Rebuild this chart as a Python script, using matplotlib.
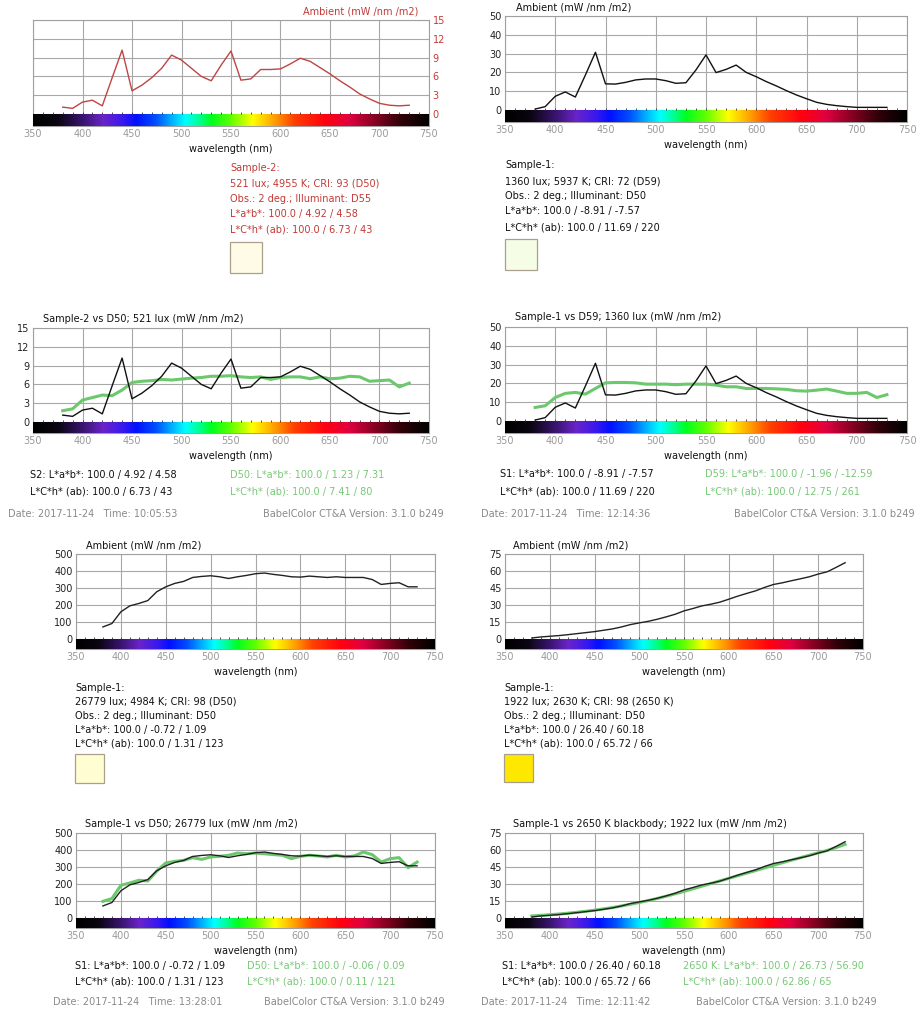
import numpy as np
import matplotlib
matplotlib.use('Agg')
import matplotlib.pyplot as plt
from matplotlib.colors import LinearSegmentedColormap
from matplotlib.patches import Rectangle

W, H = 924, 1009

# spectra, 380..730 nm every 10 nm
wavelength = list(range(380, 740, 10))

sample2_521 = [1.1, 0.9, 1.9, 2.2, 1.3, 5.8, 10.2, 3.7, 4.6, 5.8, 7.3, 9.4, 8.6, 7.3, 6.0, 5.3,
               7.8, 10.05, 5.4, 5.6, 7.1, 7.1, 7.2, 8.0, 8.9, 8.4, 7.4, 6.4, 5.3, 4.3, 3.2, 2.4,
               1.7, 1.4, 1.3, 1.4]
d50_521 = [1.8, 2.1, 3.5, 3.9, 4.3, 4.2, 5.1, 6.3, 6.5, 6.6, 6.8, 6.7, 6.85, 7.0, 7.1, 7.3,
           7.3, 7.4, 7.2, 7.1, 7.2, 6.8, 7.1, 7.2, 7.2, 6.9, 7.2, 6.9, 7.0, 7.3, 7.2, 6.5,
           6.6, 6.7, 5.6, 6.2]

sample1_1360 = [0.5, 1.8, 7.3, 9.6, 6.9, 18.6, 30.7, 13.9, 13.8, 14.7, 16.0, 16.5, 16.5, 15.6,
                14.2, 14.5, 21.3, 29.3, 19.9, 21.6, 23.9, 20.0, 17.7, 15.1, 12.8, 10.3, 8.0,
                6.0, 4.1, 3.0, 2.3, 1.8, 1.4, 1.4, 1.4, 1.4]
d59_1360 = [7.2, 8.1, 12.5, 14.7, 15.2, 14.3, 17.3, 20.3, 20.5, 20.5, 20.3, 19.6, 19.6, 19.6,
            19.3, 19.6, 19.6, 19.6, 19.1, 18.2, 18.2, 17.3, 17.3, 17.3, 17.1, 16.8, 16.1, 15.9,
            16.4, 17.0, 15.9, 14.7, 14.7, 15.2, 12.5, 14.0]

sample1_26779 = [71, 91, 160, 195, 209, 226, 278, 307, 327, 339, 362, 368, 372, 366, 356, 366,
                 374, 384, 388, 380, 374, 366, 364, 370, 366, 362, 366, 362, 362, 362, 350, 321,
                 327, 331, 307, 307]
d50_26779 = [98, 114, 192, 206, 222, 218, 276, 324, 333, 339, 355, 345, 359, 363, 369, 382,
             378, 382, 378, 373, 369, 349, 363, 369, 365, 359, 369, 359, 365, 388, 373, 329,
             349, 355, 296, 329]

sample1_1922 = [0.9, 1.8, 2.4, 3.0, 3.8, 4.7, 5.6, 6.5, 7.7, 8.9, 10.6, 12.7, 14.2, 15.6, 17.4,
                19.5, 21.8, 24.8, 26.9, 29.2, 30.7, 32.5, 35.1, 37.8, 40.2, 42.5, 45.5, 48.1,
                49.6, 51.4, 53.1, 54.9, 57.3, 59.3, 63.2, 67.3]
bb2650_1922 = [1.8, 2.3, 2.9, 3.5, 4.2, 5.0, 5.9, 6.9, 8.0, 9.2, 10.6, 12.1, 13.7, 15.4, 17.2,
               19.2, 21.3, 23.5, 25.8, 28.1, 30.4, 32.7, 35.0, 37.3, 39.6, 41.9, 44.2, 46.5,
               48.8, 51.0, 53.2, 55.4, 57.5, 59.6, 62.2, 65.0]

RED = '#c23a36'
GREEN_LINE = '#6cc86c'
GREEN_TXT = '#78c878'
GREY_TXT = '#8a8a8a'
FS = 7

spec_cmap = LinearSegmentedColormap.from_list('spectrum', [
    (0.000, '#000000'), (0.060, '#0a0510'), (0.125, '#3a1470'), (0.175, '#6a24c8'),
    (0.225, '#3a18f0'), (0.260, '#0010ff'), (0.310, '#0050ff'), (0.360, '#00c8ff'),
    (0.385, '#00ffff'), (0.420, '#00ff90'), (0.450, '#00ff20'), (0.500, '#60ff00'),
    (0.555, '#ffff00'), (0.610, '#ffa000'), (0.660, '#ff4000'), (0.740, '#ff0010'),
    (0.800, '#e00040'), (0.870, '#800020'), (0.930, '#300008'), (1.000, '#000000')])
grad = np.linspace(0, 1, 800).reshape(1, -1)

fig = plt.figure(figsize=(W / 100, H / 100), dpi=100)
plt.rcParams['font.family'] = 'DejaVu Sans'


def ftext(x, y, s, color='#111111', ha='left', size=FS):
    fig.text(x / W, 1 - y / H, s, ha=ha, va='center', color=color, fontsize=size)


def spec_axes(x0, top, x1, zero, bottom, ymax, step, right=False, ycolor='#222222'):
    ax = fig.add_axes([x0 / W, 1 - bottom / H, (x1 - x0) / W, (bottom - top) / H])
    ybot = -ymax * (bottom - zero) / (zero - top)
    ax.imshow(grad, extent=[350, 750, ybot, 0], aspect='auto', cmap=spec_cmap, zorder=3,
              interpolation='bilinear')
    ax.vlines(np.arange(360, 750, 10), 0, ymax * 0.022, colors='#333333', lw=0.6, zorder=4)
    ax.set_xlim(350, 750)
    ax.set_ylim(ybot, ymax)
    ax.set_xticks(range(350, 751, 50))
    ax.set_yticks(np.arange(0, ymax + step / 2, step))
    ax.set_yticklabels([f'{v:g}' for v in np.arange(0, ymax + step / 2, step)])
    ax.grid(color='#a8a8a8', lw=0.8)
    for s in ax.spines.values():
        s.set_color('#a0a0a0')
        s.set_linewidth(0.8)
    ax.tick_params(axis='x', length=0, pad=2, labelsize=FS, labelcolor='#9a9a9a')
    ax.tick_params(axis='y', length=0, pad=2.5, labelsize=FS, labelcolor=ycolor)
    if right:
        ax.yaxis.tick_right()
    ax.set_xlabel('wavelength (nm)', fontsize=FS, labelpad=3.5, color='#111111')
    return ax


def info_block(x, ys, lines, color, swatch, sw_box):
    for y, s in zip(ys, lines):
        ftext(x, y, s, color=color)
    x0, y0, x1, y1 = sw_box
    fig.add_artist(Rectangle((x0 / W, 1 - y1 / H), (x1 - x0) / W, (y1 - y0) / H,
                             transform=fig.transFigure, facecolor=swatch,
                             edgecolor='#a8a08a', lw=0.9))


# ---- row 1: ambient spectra
ax = spec_axes(33, 20, 429, 114, 126, 15, 3, right=True, ycolor=RED)
ax.plot(wavelength, sample2_521, color='#c04444', lw=1.0, zorder=5)
ftext(418, 12, 'Ambient (mW /nm /m2)', color=RED, ha='right')

ax = spec_axes(505, 16, 907, 110, 122, 50, 10)
ax.plot(wavelength, sample1_1360, color='#111111', lw=1.0, zorder=5)
ftext(516, 7, 'Ambient (mW /nm /m2)')

info_block(230, [168, 183, 199, 214, 230],
           ['Sample-2:', '521 lux; 4955 K; CRI: 93 (D50)', 'Obs.: 2 deg.; Illuminant: D55',
            'L*a*b*: 100.0 / 4.92 / 4.58', 'L*C*h* (ab): 100.0 / 6.73 / 43'],
           RED, '#fffbe6', (230, 242, 262, 273))
info_block(505, [165, 181, 196, 211, 227],
           ['Sample-1:', '1360 lux; 5937 K; CRI: 72 (D59)', 'Obs.: 2 deg.; Illuminant: D50',
            'L*a*b*: 100.0 / -8.91 / -7.57', 'L*C*h* (ab): 100.0 / 11.69 / 220'],
           '#111111', '#f5fde6', (505, 239, 537, 270))

# ---- row 2: comparisons
ax = spec_axes(33, 328, 429, 422, 433, 15, 3)
ax.plot(wavelength, d50_521, color=GREEN_LINE, lw=2.2, zorder=5)
ax.plot(wavelength, sample2_521, color='#111111', lw=1.0, zorder=6)
ftext(43, 319, 'Sample-2 vs D50; 521 lux (mW /nm /m2)')
ftext(30, 475, 'S2: L*a*b*: 100.0 / 4.92 / 4.58')
ftext(30, 491, 'L*C*h* (ab): 100.0 / 6.73 / 43')
ftext(230, 475, 'D50: L*a*b*: 100.0 / 1.23 / 7.31', color=GREEN_TXT)
ftext(230, 491, 'L*C*h* (ab): 100.0 / 7.41 / 80', color=GREEN_TXT)
ftext(8, 514, 'Date: 2017-11-24   Time: 10:05:53', color=GREY_TXT)
ftext(444, 514, 'BabelColor CT&A Version: 3.1.0 b249', color=GREY_TXT, ha='right')

ax = spec_axes(505, 327, 907, 421, 433, 50, 10)
ax.plot(wavelength, d59_1360, color=GREEN_LINE, lw=2.2, zorder=5)
ax.plot(wavelength, sample1_1360, color='#111111', lw=1.0, zorder=6)
ftext(515, 317, 'Sample-1 vs D59; 1360 lux (mW /nm /m2)')
ftext(500, 474, 'S1: L*a*b*: 100.0 / -8.91 / -7.57')
ftext(500, 491, 'L*C*h* (ab): 100.0 / 11.69 / 220')
ftext(705, 474, 'D59: L*a*b*: 100.0 / -1.96 / -12.59', color=GREEN_TXT)
ftext(705, 491, 'L*C*h* (ab): 100.0 / 12.75 / 261', color=GREEN_TXT)
ftext(481, 514, 'Date: 2017-11-24   Time: 12:14:36', color=GREY_TXT)
ftext(915, 514, 'BabelColor CT&A Version: 3.1.0 b249', color=GREY_TXT, ha='right')

# ---- row 3: ambient spectra
ax = spec_axes(76, 554, 435, 639, 649, 500, 100)
ax.plot(wavelength, sample1_26779, color='#222222', lw=1.0, zorder=5)
ftext(86, 546, 'Ambient (mW /nm /m2)')

ax = spec_axes(505, 554, 863, 639, 649, 75, 15)
ax.plot(wavelength, sample1_1922, color='#222222', lw=1.0, zorder=5)
ftext(513, 546, 'Ambient (mW /nm /m2)')

info_block(75, [688, 702, 716, 730, 744],
           ['Sample-1:', '26779 lux; 4984 K; CRI: 98 (D50)', 'Obs.: 2 deg.; Illuminant: D50',
            'L*a*b*: 100.0 / -0.72 / 1.09', 'L*C*h* (ab): 100.0 / 1.31 / 123'],
           '#111111', '#fffdd2', (75, 754, 104, 783))
info_block(504, [688, 702, 716, 730, 744],
           ['Sample-1:', '1922 lux; 2630 K; CRI: 98 (2650 K)', 'Obs.: 2 deg.; Illuminant: D50',
            'L*a*b*: 100.0 / 26.40 / 60.18', 'L*C*h* (ab): 100.0 / 65.72 / 66'],
           '#111111', '#ffe800', (504, 754, 533, 782))

# ---- row 4: comparisons
ax = spec_axes(76, 833, 435, 918, 928, 500, 100)
ax.plot(wavelength, d50_26779, color=GREEN_LINE, lw=2.2, zorder=5)
ax.plot(wavelength, sample1_26779, color='#222222', lw=1.0, zorder=6)
ftext(85, 824, 'Sample-1 vs D50; 26779 lux (mW /nm /m2)')
ftext(75, 966, 'S1: L*a*b*: 100.0 / -0.72 / 1.09')
ftext(75, 981, 'L*C*h* (ab): 100.0 / 1.31 / 123')
ftext(247, 966, 'D50: L*a*b*: 100.0 / -0.06 / 0.09', color=GREEN_TXT)
ftext(247, 981, 'L*C*h* (ab): 100.0 / 0.11 / 121', color=GREEN_TXT)
ftext(53, 1002, 'Date: 2017-11-24   Time: 13:28:01', color=GREY_TXT)
ftext(445, 1002, 'BabelColor CT&A Version: 3.1.0 b249', color=GREY_TXT, ha='right')

ax = spec_axes(505, 833, 863, 918, 928, 75, 15)
ax.plot(wavelength, bb2650_1922, color=GREEN_LINE, lw=2.2, zorder=5)
ax.plot(wavelength, sample1_1922, color='#222222', lw=1.0, zorder=6)
ftext(513, 824, 'Sample-1 vs 2650 K blackbody; 1922 lux (mW /nm /m2)')
ftext(502, 966, 'S1: L*a*b*: 100.0 / 26.40 / 60.18')
ftext(502, 981, 'L*C*h* (ab): 100.0 / 65.72 / 66')
ftext(683, 966, '2650 K: L*a*b*: 100.0 / 26.73 / 56.90', color=GREEN_TXT)
ftext(683, 981, 'L*C*h* (ab): 100.0 / 62.86 / 65', color=GREEN_TXT)
ftext(481, 1002, 'Date: 2017-11-24   Time: 12:11:42', color=GREY_TXT)
ftext(877, 1002, 'BabelColor CT&A Version: 3.1.0 b249', color=GREY_TXT, ha='right')

fig.savefig('out.png', dpi=100)
